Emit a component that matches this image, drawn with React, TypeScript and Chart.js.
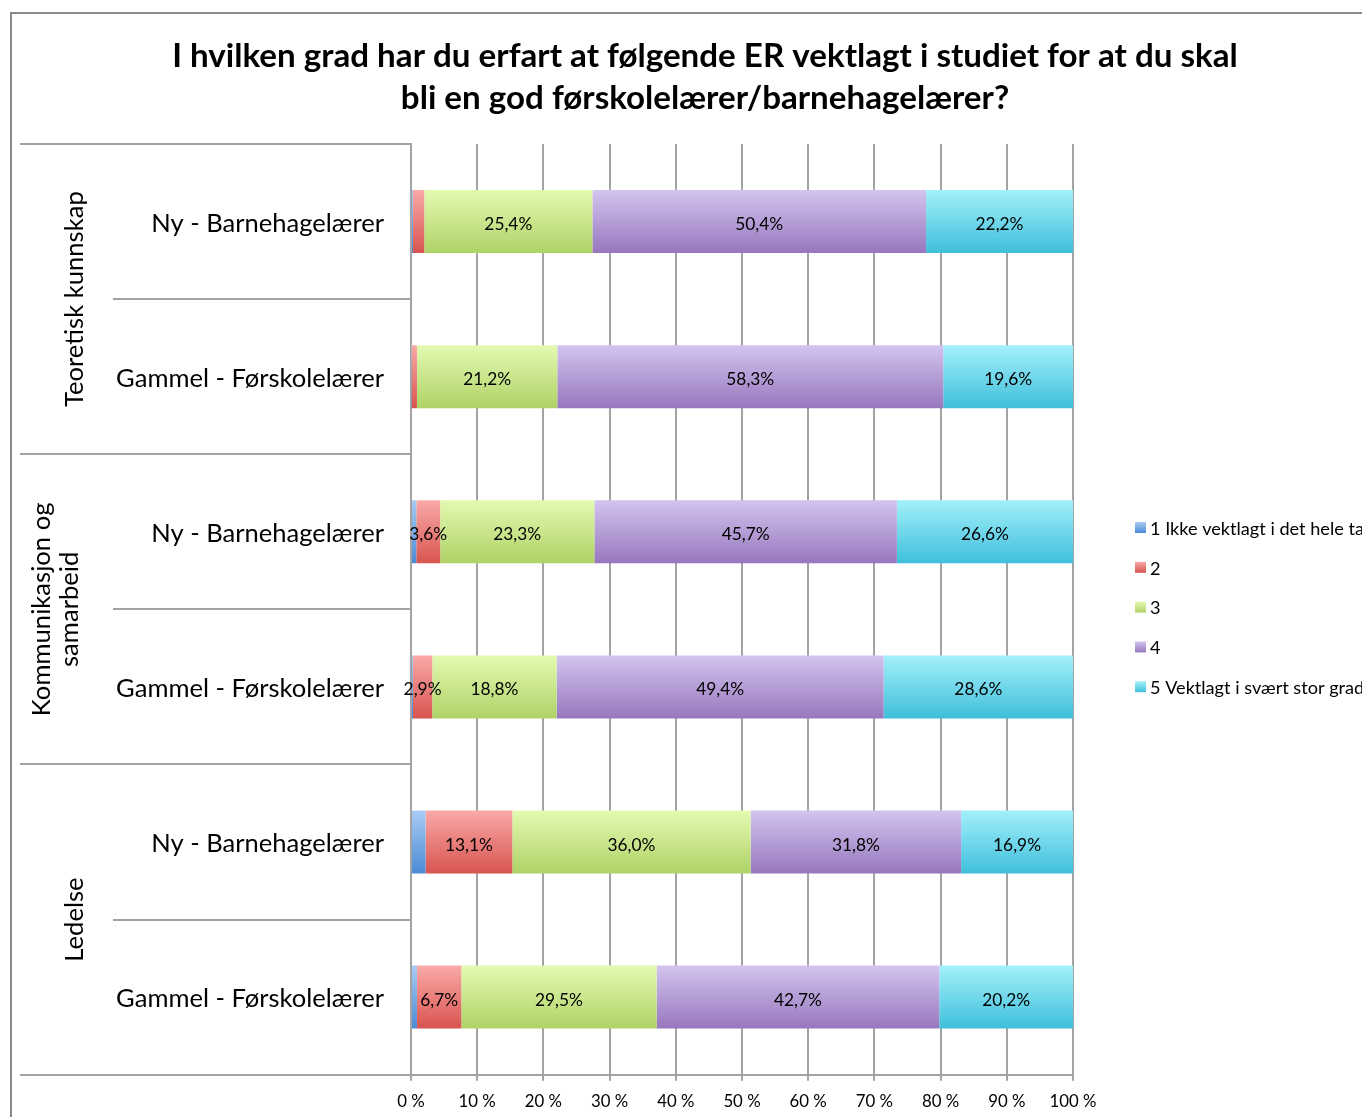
import React, { useEffect, useRef } from "react";
import { Chart, registerables } from "chart.js";

Chart.register(...registerables);

const titleLines = [
  "I hvilken grad har du erfart at følgende ER vektlagt i studiet for at du skal",
  "bli en god førskolelærer/barnehagelærer?",
];
const groupLabels: string[][] = [
  ["Teoretisk kunnskap"],
  ["Kommunikasjon og", "samarbeid"],
  ["Ledelse"],
];
const categories = [
  "Ny - Barnehagelærer",
  "Gammel - Førskolelærer",
  "Ny - Barnehagelærer",
  "Gammel - Førskolelærer",
  "Ny - Barnehagelærer",
  "Gammel - Førskolelærer",
];
const seriesNames = [
  "1 Ikke vektlagt i det hele tatt",
  "2",
  "3",
  "4",
  "5 Vektlagt i svært stor grad",
];
const series1 = [0.3, 0.1, 0.8, 0.3, 2.2, 0.9];
const series2 = [1.7, 0.8, 3.6, 2.9, 13.1, 6.7];
const series3 = [25.4, 21.2, 23.3, 18.8, 36.0, 29.5];
const series4 = [50.4, 58.3, 45.7, 49.4, 31.8, 42.7];
const series5 = [22.2, 19.6, 26.6, 28.6, 16.9, 20.2];
const xTicks = [0, 10, 20, 30, 40, 50, 60, 70, 80, 90, 100];

const FAMILY = "Lato, 'Open Sans', sans-serif";
const gradStops: [string, string][] = [
  ["#a9cbf3", "#4b8bd5"],
  ["#f9aaa8", "#d8544f"],
  ["#e3fab1", "#afd267"],
  ["#d3c4ef", "#9777bd"],
  ["#a3f0fa", "#3fbfdb"],
];
const GRID = "#a3a3a3";
const BAR_FRAC = 0.406;

function fit(text: string, weight: string, target: number): number {
  const c = document.createElement("canvas").getContext("2d")!;
  c.font = `${weight} 100px ${FAMILY}`;
  const w = c.measureText(text).width;
  return (100 * target) / w;
}

export default function App() {
  const ref = useRef<HTMLCanvasElement>(null);
  useEffect(() => {
    const canvas = ref.current!;
    const titleSize = fit(titleLines[0], "bold", 1066);
    const catSize = fit("Gammel - Førskolelærer", "normal", 268);
    const groupSize = fit("Teoretisk kunnskap", "normal", 216);
    const tickSize = fit("100 %", "normal", 47);
    const labelSize = fit("25,4%", "normal", 48);
    const legendSize = fit("1 Ikke vektlagt i det hele ta", "normal", 214);
    const allSeries = [series1, series2, series3, series4, series5];

    const makeGrad = (c: CanvasRenderingContext2D, top: number, bot: number, i: number) => {
      const g = c.createLinearGradient(0, top, 0, bot);
      g.addColorStop(0, gradStops[i][0]);
      g.addColorStop(1, gradStops[i][1]);
      return g;
    };

    const decor = {
      id: "decor",
      beforeDraw(chart: any) {
        const c: CanvasRenderingContext2D = chart.ctx;
        const a = chart.chartArea;
        c.save();
        c.fillStyle = "#ffffff";
        c.fillRect(0, 0, chart.width, chart.height);
        c.strokeStyle = "#8a8a8a";
        c.lineWidth = 2;
        c.strokeRect(11, 13, chart.width + 50, chart.height + 50);
        // title
        c.fillStyle = "#000";
        c.font = `bold ${titleSize}px ${FAMILY}`;
        c.textAlign = "center";
        c.textBaseline = "middle";
        c.fillText(titleLines[0], 705, 56);
        c.fillText(titleLines[1], 705, 98);
        // category separators
        const h = (a.bottom - a.top) / categories.length;
        c.strokeStyle = GRID;
        c.lineWidth = 2;
        for (let i = 0; i <= categories.length; i++) {
          const y = Math.round(a.top + i * h);
          const x0 = i % 2 === 0 ? 20 : 113;
          c.beginPath();
          c.moveTo(x0, y);
          c.lineTo(a.left, y);
          c.stroke();
        }
        // group labels
        c.font = `${groupSize}px ${FAMILY}`;
        c.fillStyle = "#000";
        groupLabels.forEach((lines, gi) => {
          const yc = a.top + (gi * 2 + 1) * h;
          const lh = 28;
          const xc = lines.length > 1 ? 56 : 75;
          lines.forEach((ln, li) => {
            const x = xc + (li - (lines.length - 1) / 2) * lh;
            c.save();
            c.translate(x, yc);
            c.rotate(-Math.PI / 2);
            c.textAlign = "center";
            c.textBaseline = "middle";
            c.fillText(ln, 0, 0);
            c.restore();
          });
        });
        // legend
        c.font = `${legendSize}px ${FAMILY}`;
        c.textAlign = "left";
        c.textBaseline = "middle";
        seriesNames.forEach((name, i) => {
          const y = 528 + i * 39.8;
          c.fillStyle = makeGrad(c, y - 6, y + 5, i);
          c.fillRect(1135, y - 6, 11, 11);
          c.fillStyle = "#000";
          c.fillText(name, 1150, y + 1);
        });
        c.restore();
      },
      afterDatasetsDraw(chart: any) {
        const c: CanvasRenderingContext2D = chart.ctx;
        c.save();
        c.font = `${labelSize}px ${FAMILY}`;
        c.fillStyle = "#000";
        c.textAlign = "center";
        c.textBaseline = "middle";
        for (let d = 1; d < allSeries.length; d++) {
          const meta = chart.getDatasetMeta(d);
          meta.data.forEach((el: any, i: number) => {
            const v = allSeries[d][i];
            if (v < 2.5) return;
            const x = (el.x + el.base) / 2;
            c.fillText(v.toFixed(1).replace(".", ",") + "%", x, el.y + 3);
          });
        }
        c.restore();
      },
    };

    const chart = new Chart(canvas, {
      type: "bar",
      data: {
        labels: categories,
        datasets: allSeries.map((s, i) => ({
          label: seriesNames[i],
          data: s,
          backgroundColor: (ctx: any) => {
            const ch = ctx.chart;
            const a = ch.chartArea;
            if (!a || ctx.type !== "data") return gradStops[i][1];
            const h = (a.bottom - a.top) / categories.length;
            const yc = a.top + (ctx.dataIndex + 0.5) * h;
            const half = (h * BAR_FRAC) / 2;
            return makeGrad(ch.ctx, yc - half, yc + half, i);
          },
          borderWidth: 0,
          categoryPercentage: 1,
          barPercentage: BAR_FRAC,
        })),
      },
      options: {
        indexAxis: "y",
        animation: false,
        responsive: false,
        devicePixelRatio: 1,
        layout: { padding: { top: 144, left: 0, right: 1410 - 1073, bottom: 0 } },
        plugins: {
          legend: { display: false },
          title: { display: false },
          tooltip: { enabled: false },
        },
        scales: {
          x: {
            stacked: true,
            min: 0,
            max: 100,
            afterFit: (s: any) => {
              s.height = 42;
            },
            afterBuildTicks: (s: any) => {
              s.ticks = xTicks.map((v) => ({ value: v }));
            },
            ticks: {
              callback: (v: any) => v + " %",
              color: "#000",
              font: { family: FAMILY, size: tickSize },
              padding: 11,
              maxRotation: 0,
            },
            grid: { color: GRID, lineWidth: 2, tickLength: 6, drawTicks: true },
            border: { display: true, color: GRID, width: 2 },
          },
          y: {
            stacked: true,
            afterFit: (s: any) => {
              s.width = 411;
            },
            ticks: {
              color: "#000",
              font: { family: FAMILY, size: catSize },
              padding: 27,
              labelOffset: 2,
            },
            grid: { display: false, drawTicks: false },
            border: { display: true, color: GRID, width: 2 },
          },
        },
      },
      plugins: [decor],
    } as any);
    return () => chart.destroy();
  }, []);

  return (
    <div
      style={{
        position: "fixed",
        left: 0,
        top: 0,
        width: 1362,
        height: 1117,
        overflow: "hidden",
        background: "#fff",
      }}
    >
      <canvas ref={ref} width={1410} height={1117} style={{ display: "block" }} />
    </div>
  );
}
